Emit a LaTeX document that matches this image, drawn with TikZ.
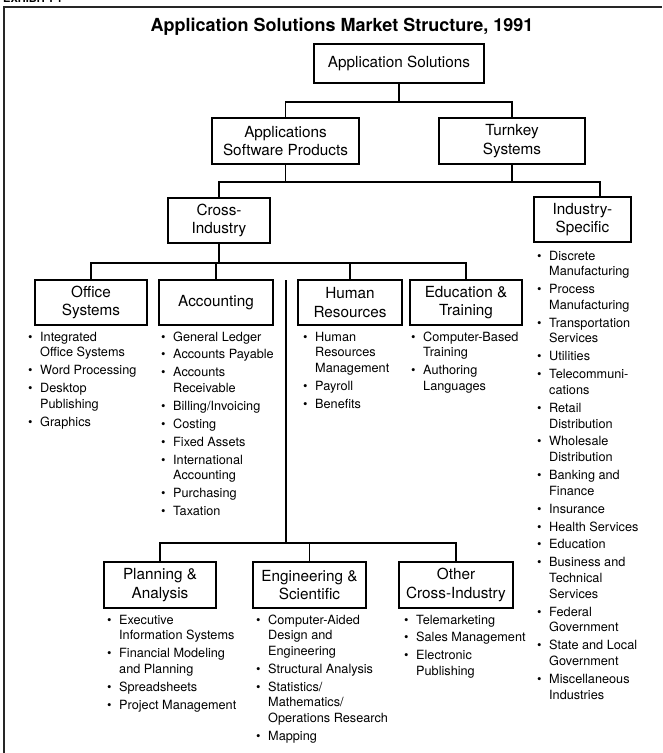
\documentclass[tikz,border=0pt]{standalone}
\usepackage{fontspec}
\setmainfont{TeX Gyre Heros}
\usetikzlibrary{calc}

% bullet list helpers
\newcommand\bu{\makebox[12pt][l]{\textbullet}}
\newcommand\nx{\\[2.2pt]}
\newcommand\blist[1]{\begin{tabular}[t]{@{}l@{}l@{}}#1\end{tabular}}

\tikzset{
  catbox/.style={draw, line width=1.4pt, inner sep=0pt, align=center,
    font=\fontsize{15.3}{18.7}\selectfont},
  link/.style={line width=1.4pt},
  frameline/.style={line width=1.2pt, black!85},
  itemlist/.style={anchor=base west, inner sep=0pt,
    font=\fontsize{12.7}{15.7}\selectfont},
}

\begin{document}
\begin{tikzpicture}[x=1pt, y=-1pt]
\useasboundingbox (0,0) rectangle (662,753);

% page frame and exhibit label
\node[anchor=base west, inner sep=0pt, font=\bfseries\fontsize{11}{13}\selectfont] (exh) at (3,2) {EXHIBIT I-1};
\draw[frameline] (4,753) -- (4,7) -- (662,7);

% title
\node[anchor=base, inner sep=0pt, font=\bfseries\fontsize{18}{22}\selectfont] (title) at (342,31)
  {Application Solutions Market Structure, 1991};

% category boxes
\node[catbox, minimum width=170pt, minimum height=39pt] (sol) at (399,63.5) {Application Solutions};
\node[catbox, minimum width=147pt, minimum height=46pt] (asp) at (285.5,141) {Applications\\Software Products};
\node[catbox, minimum width=146pt, minimum height=46pt] (tk) at (512,141) {Turnkey\\Systems};
\node[catbox, minimum width=102pt, minimum height=45pt] (cross) at (219,220.5) {Cross-\\Industry};
\node[catbox, minimum width=97pt, minimum height=45pt] (ind) at (582.5,219.5) {Industry-\\Specific};

\node[catbox, minimum width=112pt, minimum height=45pt] (off) at (91,302.5) {Office\\Systems};
\node[catbox, minimum width=114pt, minimum height=45pt] (acc) at (216,302.5) {Accounting};
\node[catbox, minimum width=104pt, minimum height=45pt] (hr) at (350,302.5) {Human\\Resources};
\node[catbox, minimum width=112pt, minimum height=45pt] (edu) at (466,302.5) {Education \&\\Training};

\node[catbox, minimum width=112pt, minimum height=46pt] (pla) at (160,585) {Planning \&\\Analysis};
\node[catbox, minimum width=113pt, minimum height=46pt] (eng) at (309.5,585) {Engineering \&\\Scientific};
\node[catbox, minimum width=114pt, minimum height=46pt] (oth) at (456,585) {Other\\Cross-Industry};

% connector levels
\coordinate (b1) at (0,102);
\coordinate (b2) at (0,182);
\coordinate (b3) at (0,263);
\coordinate (b4) at (0,543);
\coordinate (indin) at ([xshift=17.5pt]ind.north);
\coordinate (spine) at (286,280);

\draw[link] (sol.south) -- (sol.south |- b1);
\draw[link] (asp.north) |- (tk.north |- b1) -- (tk.north);

\draw[link] (asp.south) -- (asp.south |- b2);
\draw[link] (tk.south) -- (tk.south |- b2);
\draw[link] (cross.north) |- (indin |- b2) -- (indin);

\draw[link] (cross.south) -- (cross.south |- b3);
\draw[link] (off.north) |- (edu.north |- b3) -- (edu.north);
\draw[link] (acc.north) -- (acc.north |- b3);
\draw[link] (hr.north) -- (hr.north |- b3);

\draw[link] (spine) -- (spine |- b4);
\draw[link] (pla.north) |- (oth.north |- b4) -- (oth.north);
\draw[link] (eng.north) -- (eng.north |- b4);

% item lists
\node[itemlist] (offl) at (28,341) {\blist{%
  \bu & Integrated\\ & Office Systems\nx
  \bu & Word Processing\nx
  \bu & Desktop\\ & Publishing\nx
  \bu & Graphics}};

\node[itemlist] (accl) at (161,341) {\blist{%
  \bu & General Ledger\nx
  \bu & Accounts Payable\nx
  \bu & Accounts\\ & Receivable\nx
  \bu & Billing/Invoicing\nx
  \bu & Costing\nx
  \bu & Fixed Assets\nx
  \bu & International\\ & Accounting\nx
  \bu & Purchasing\nx
  \bu & Taxation}};

\node[itemlist] (hrl) at (303,341) {\blist{%
  \bu & Human\\ & Resources\\ & Management\nx
  \bu & Payroll\nx
  \bu & Benefits}};

\node[itemlist] (edul) at (411,341) {\blist{%
  \bu & Computer-Based\\ & Training\nx
  \bu & Authoring\\ & Languages}};

\node[itemlist] (indl) at (537,260) {\blist{%
  \bu & Discrete\\ & Manufacturing\nx
  \bu & Process\\ & Manufacturing\nx
  \bu & Transportation\\ & Services\nx
  \bu & Utilities\nx
  \bu & Telecommuni-\\ & cations\nx
  \bu & Retail\\ & Distribution\nx
  \bu & Wholesale\\ & Distribution\nx
  \bu & Banking and\\ & Finance\nx
  \bu & Insurance\nx
  \bu & Health Services\nx
  \bu & Education\nx
  \bu & Business and\\ & Technical\\ & Services\nx
  \bu & Federal\\ & Government\nx
  \bu & State and Local\\ & Government\nx
  \bu & Miscellaneous\\ & Industries}};

\node[itemlist] (plal) at (107,624) {\blist{%
  \bu & Executive\\ & Information Systems\nx
  \bu & Financial Modeling\\ & and Planning\nx
  \bu & Spreadsheets\nx
  \bu & Project Management}};

\node[itemlist] (engl) at (256,624) {\blist{%
  \bu & Computer-Aided\\ & Design and\\ & Engineering\nx
  \bu & Structural Analysis\nx
  \bu & Statistics/\\ & Mathematics/\\ & Operations Research\nx
  \bu & Mapping}};

\node[itemlist] (othl) at (404,624) {\blist{%
  \bu & Telemarketing\nx
  \bu & Sales Management\nx
  \bu & Electronic\\ & Publishing}};

\end{tikzpicture}
\end{document}
